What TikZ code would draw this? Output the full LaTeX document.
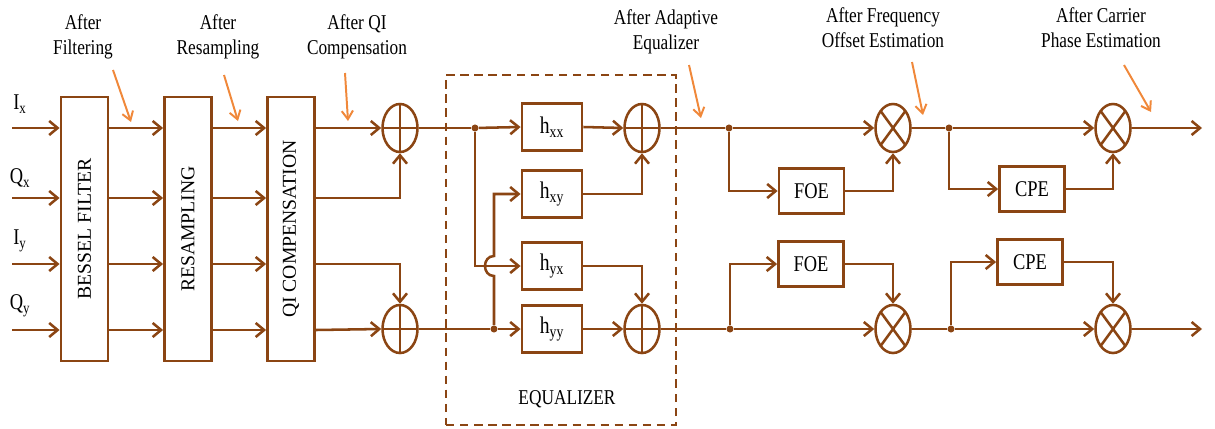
\documentclass[tikz,border=0pt]{standalone}
\usepackage{fontspec}
\setmainfont{Liberation Serif}
\newfontfamily\narrowserif{Liberation Serif}[FakeStretch=0.82]
\usetikzlibrary{shapes.geometric, arrows.meta, calc}
\definecolor{LineBrown}{HTML}{8B4513}
\definecolor{NoteOrange}{HTML}{F0883A}

\begin{document}
\begin{tikzpicture}[
    x=0.025cm, y=-0.025cm,
    blk/.style={rectangle, draw=LineBrown, line width=2pt, fill=white, align=center, inner sep=0pt, font=\narrowserif\fontsize{16}{18}\selectfont},
    tall/.style={blk, minimum width=1.175cm, minimum height=6.6cm, font=\fontsize{14}{16}\selectfont},
    hbox/.style={blk, minimum width=1.5cm, minimum height=1.175cm, font=\narrowserif\fontsize{17}{19}\selectfont},
    ebox/.style={blk, minimum width=1.625cm, minimum height=1.125cm},
    adder/.style={ellipse, draw=LineBrown, line width=1.8pt, fill=white, minimum width=0.875cm, minimum height=1.2cm, inner sep=0pt,
      path picture={\draw[LineBrown, line width=1.8pt] (path picture bounding box.north) -- (path picture bounding box.south)
        (path picture bounding box.west) -- (path picture bounding box.east);}},
    mixer/.style={adder, path picture={\draw[LineBrown, line width=1.8pt] (path picture bounding box.north east) -- (path picture bounding box.south west)
        (path picture bounding box.north west) -- (path picture bounding box.south east);}},
    dot/.style={circle, fill=LineBrown, inner sep=0pt, minimum size=5pt},
    eqframe/.style={rectangle, draw=LineBrown, line width=1.8pt, dash pattern=on 6pt off 4pt, minimum width=5.75cm, minimum height=8.75cm},
    note/.style={align=center, font=\narrowserif\fontsize{15}{18}\selectfont},
    lbl/.style={font=\narrowserif\fontsize{16}{18}\selectfont},
    wire/.style={line width=1.8pt, LineBrown},
    arr/.style={wire, -{Straight Barb[length=6pt, width=10pt]}},
    oarr/.style={-{Straight Barb[length=6pt, width=8pt]}, line width=1.4pt, NoteOrange}
  ]
  \useasboundingbox (0,0) rectangle (1215,428);

  \node[eqframe] (eqbox) at (561,250) {};
  \node[note] (eqlbl) at (567,399) {EQUALIZER};

  \coordinate (iIx) at (12,128);
  \coordinate (iQx) at (12,198);
  \coordinate (iIy) at (12,264);
  \coordinate (iQy) at (12,330);
  \node[lbl] (tIx) at (20,104) {I\textsubscript{x}};
  \node[lbl] (tQx) at (20,178) {Q\textsubscript{x}};
  \node[lbl] (tIy) at (20,241) {I\textsubscript{y}};
  \node[lbl] (tQy) at (20,306) {Q\textsubscript{y}};

  \node[tall] (bes) at (84.5,229) {\rotatebox{90}{BESSEL FILTER}};
  \node[tall] (res) at (188,229) {\rotatebox{90}{RESAMPLING}};
  \node[tall] (qic) at (291,229) {\rotatebox{90}{QI COMPENSATION}};

  \node[adder] (au) at (400,128) {};
  \node[adder] (al) at (400,329) {};

  \node[dot] (d1) at (475,128) {};
  \node[dot] (d2) at (494,329) {};
  \node[hbox] (hxx) at (552,127) {h\textsubscript{xx}};
  \node[hbox] (hxy) at (552,194) {h\textsubscript{xy}};
  \node[hbox] (hyx) at (552,266) {h\textsubscript{yx}};
  \node[hbox] (hyy) at (552,329) {h\textsubscript{yy}};
  \node[adder] (aeu) at (642,128) {};
  \node[adder] (ael) at (642,329) {};

  \node[dot] (d3) at (729,128) {};
  \node[dot] (d4) at (730,329) {};
  \node[ebox] (foeu) at (811.5,191) {FOE};
  \node[ebox] (foel) at (811,264) {FOE};
  \node[mixer] (mfu) at (893,128) {};
  \node[mixer] (mfl) at (893,329) {};

  \node[dot] (d5) at (949,128) {};
  \node[dot] (d6) at (951,329) {};
  \node[ebox] (cpeu) at (1032,189) {CPE};
  \node[ebox] (cpel) at (1030,262) {CPE};
  \node[mixer] (mcu) at (1113,128) {};
  \node[mixer] (mcl) at (1113,329) {};
  \coordinate (ou) at (1202,128);
  \coordinate (ol) at (1202,329);

  \foreach \r in {iIx, iQx, iIy, iQy} {
    \draw[arr] (\r) -- (\r -| bes.west);
    \draw[arr] (bes.east |- \r) -- (res.west |- \r);
    \draw[arr] (res.east |- \r) -- (qic.west |- \r);
  }
  \draw[arr] (qic.east |- iIx) -- (au.west);
  \draw[arr] (qic.east |- iQx) -| (au.south);
  \draw[arr] (qic.east |- iIy) -| (al.north);
  \draw[arr] (qic.east |- iQy) -- (al.west);

  \draw[wire] (au.east) -- (d1);
  \draw[wire] (al.east) -- (d2);
  \draw[arr] (d1) -- (hxx.west);
  \draw[arr] (d1) |- (hyx.west);
  \draw[arr] (d2) -- (hyy.west);
  \draw[arr] (d2) -- ($(d2 |- hyx.west)+(0,10)$) .. controls +(-12,0) and +(-12,0) .. ($(d2 |- hyx.west)+(0,-10)$) |- (hxy.west);
  \draw[arr] (hxx.east) -- (aeu.west);
  \draw[arr] (hxy.east) -| (aeu.south);
  \draw[arr] (hyx.east) -| (ael.north);
  \draw[arr] (hyy.east) -- (ael.west);

  \draw[wire] (aeu.east) -- (d3);
  \draw[wire] (ael.east) -- (d4);
  \draw[arr] (d3) -- (mfu.west);
  \draw[arr] (d3) |- (foeu.west);
  \draw[arr] (foeu.east) -| (mfu.south);
  \draw[arr] (d4) -- (mfl.west);
  \draw[arr] (d4) |- (foel.west);
  \draw[arr] (foel.east) -| (mfl.north);

  \draw[wire] (mfu.east) -- (d5);
  \draw[wire] (mfl.east) -- (d6);
  \draw[arr] (d5) -- (mcu.west);
  \draw[arr] (d5) |- (cpeu.west);
  \draw[arr] (cpeu.east) -| (mcu.south);
  \draw[arr] (d6) -- (mcl.west);
  \draw[arr] (d6) |- (cpel.west);
  \draw[arr] (cpel.east) -| (mcl.north);
  \draw[arr] (mcu.east) -- (ou);
  \draw[arr] (mcl.east) -- (ol);

  \node[note] (nFilt) at (83,37) {After\\Filtering};
  \node[note] (nRes) at (218,37) {After\\Resampling};
  \node[note] (nQI) at (357,37) {After QI\\Compensation};
  \node[note] (nEq) at (666,32) {After Adaptive\\Equalizer};
  \node[note] (nFoe) at (883,28) {After Frequency\\Offset Estimation};
  \node[note] (nCpe) at (1101,28) {After Carrier\\Phase Estimation};

  \coordinate (sFilt) at (113,70);  \coordinate (pFilt) at (131,122);
  \coordinate (sRes) at (224,75);   \coordinate (pRes) at (238,121);
  \coordinate (sQI) at (345,73);    \coordinate (pQI) at (348,121);
  \coordinate (sEq) at (689,65);    \coordinate (pEq) at (701,118);
  \coordinate (sFoe) at (912,62);   \coordinate (pFoe) at (923,115);
  \coordinate (sCpe) at (1124,65);  \coordinate (pCpe) at (1151,112);
  \foreach \n in {Filt, Res, QI, Eq, Foe, Cpe}
    \draw[oarr] (s\n) -- (p\n);
\end{tikzpicture}
\end{document}
